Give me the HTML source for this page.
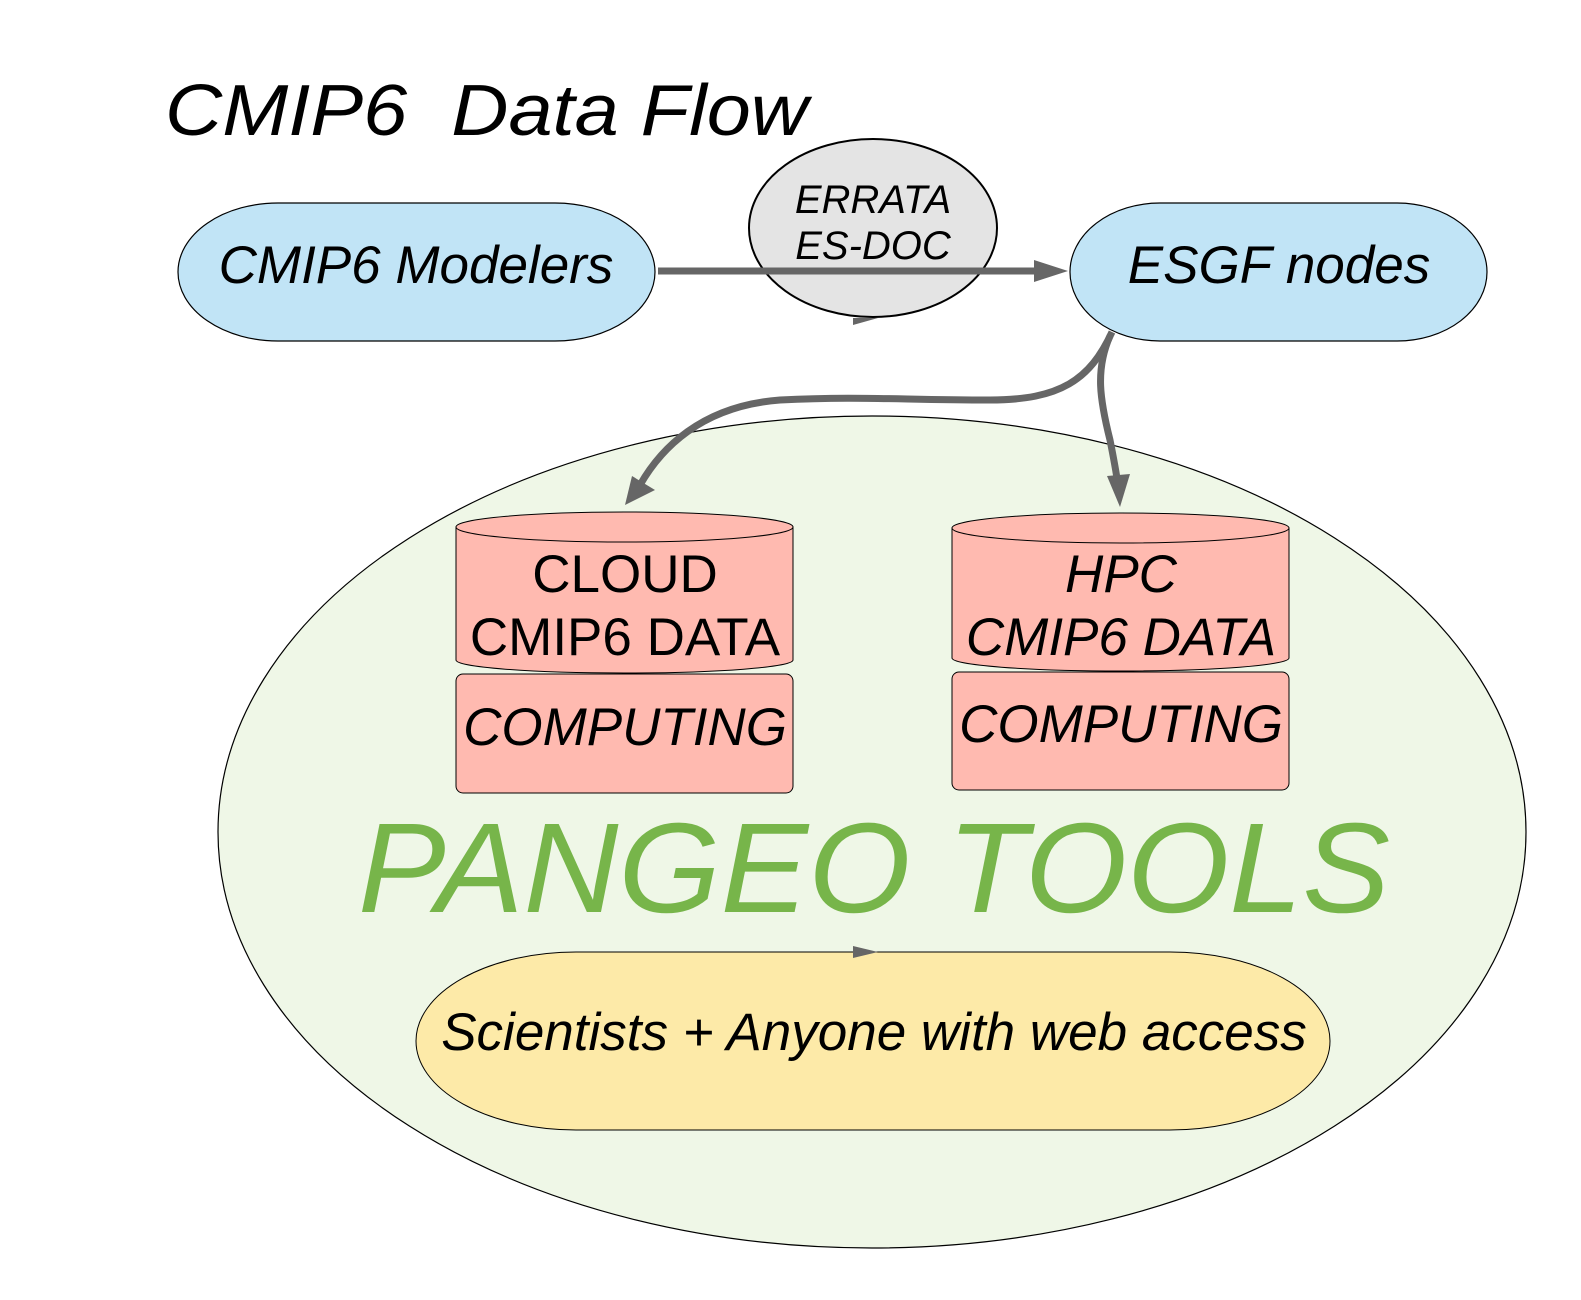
<!DOCTYPE html>
<html><head><style>body{margin:0;background:#fff}svg{display:block}</style></head><body>
<svg width="1581" height="1300" viewBox="0 0 1581 1300" xmlns="http://www.w3.org/2000/svg" font-family="Liberation Sans, sans-serif">
<text x="165" y="135" font-size="72" font-style="italic" textLength="643" lengthAdjust="spacingAndGlyphs">CMIP6&#160;&#160;Data Flow</text>
<ellipse cx="872" cy="832" rx="654" ry="416" fill="#eff7e7" stroke="#000" stroke-width="1.2"/>
<rect x="178" y="203" width="477" height="138" rx="100" ry="69" fill="#c1e4f6" stroke="#000" stroke-width="1.2"/>
<text x="416" y="283" font-size="53" font-style="italic" text-anchor="middle">CMIP6 Modelers</text>
<rect x="1070" y="203" width="417" height="138" rx="90" ry="69" fill="#c1e4f6" stroke="#000" stroke-width="1.2"/>
<text x="1279" y="283" font-size="53" font-style="italic" text-anchor="middle">ESGF nodes</text>
<ellipse cx="873" cy="228" rx="124" ry="89" fill="#e4e4e4" stroke="#000" stroke-width="2"/>
<text x="873" y="213" font-size="40" font-style="italic" text-anchor="middle">ERRATA</text>
<text x="873" y="259" font-size="40" font-style="italic" text-anchor="middle">ES-DOC</text>
<line x1="658" y1="271" x2="1040" y2="271" stroke="#666" stroke-width="7"/>
<polygon points="1068,271 1034,260 1034,282" fill="#666"/>
<polygon points="853,318 878,318 853,325" fill="#666"/>
<path d="M1112,332 C1090,380 1060,400 990,400 C900,400 860,396 780,400 C700,406 660,450 640,485" fill="none" stroke="#666" stroke-width="7"/>
<polygon points="625,505 632,476 655,490" fill="#666"/>
<path d="M1110,336 C1095,370 1100,400 1110,440 C1115,465 1117,478 1118,485" fill="none" stroke="#666" stroke-width="7"/>
<polygon points="1120,507 1107,476 1130,474" fill="#666"/>
<path d="M456,527 L456,660 A168.5,13 0 0 0 793,660 L793,527 Z" fill="#ffbab0" stroke="#000" stroke-width="1"/>
<ellipse cx="624.5" cy="527" rx="168.5" ry="15" fill="#ffbab0" stroke="#000" stroke-width="1"/>
<text x="625" y="592" font-size="53" text-anchor="middle">CLOUD</text>
<text x="625" y="655" font-size="53" text-anchor="middle">CMIP6 DATA</text>
<rect x="456" y="674" width="337" height="119" rx="7" fill="#ffbab0" stroke="#000" stroke-width="1"/>
<text x="625" y="745" font-size="53" font-style="italic" text-anchor="middle">COMPUTING</text>
<path d="M952,528 L952,658 A168.5,13 0 0 0 1289,658 L1289,528 Z" fill="#ffbab0" stroke="#000" stroke-width="1"/>
<ellipse cx="1120.5" cy="528" rx="168.5" ry="15" fill="#ffbab0" stroke="#000" stroke-width="1"/>
<text x="1121" y="592" font-size="53" font-style="italic" text-anchor="middle">HPC</text>
<text x="1121" y="655" font-size="53" font-style="italic" text-anchor="middle">CMIP6 DATA</text>
<rect x="952" y="672" width="337" height="118" rx="7" fill="#ffbab0" stroke="#000" stroke-width="1"/>
<text x="1121" y="742" font-size="53" font-style="italic" text-anchor="middle">COMPUTING</text>
<text x="358" y="912" font-size="128" font-style="italic" fill="#77b54a" textLength="1032" lengthAdjust="spacingAndGlyphs">PANGEO TOOLS</text>
<rect x="416" y="952" width="914" height="178" rx="160" ry="89" fill="#fdeaa8" stroke="#000" stroke-width="1"/>
<polygon points="853,946 878,952 853,958" fill="#666"/>
<text x="874" y="1050" font-size="53" font-style="italic" text-anchor="middle">Scientists + Anyone with web access</text>
</svg>
</body></html>
